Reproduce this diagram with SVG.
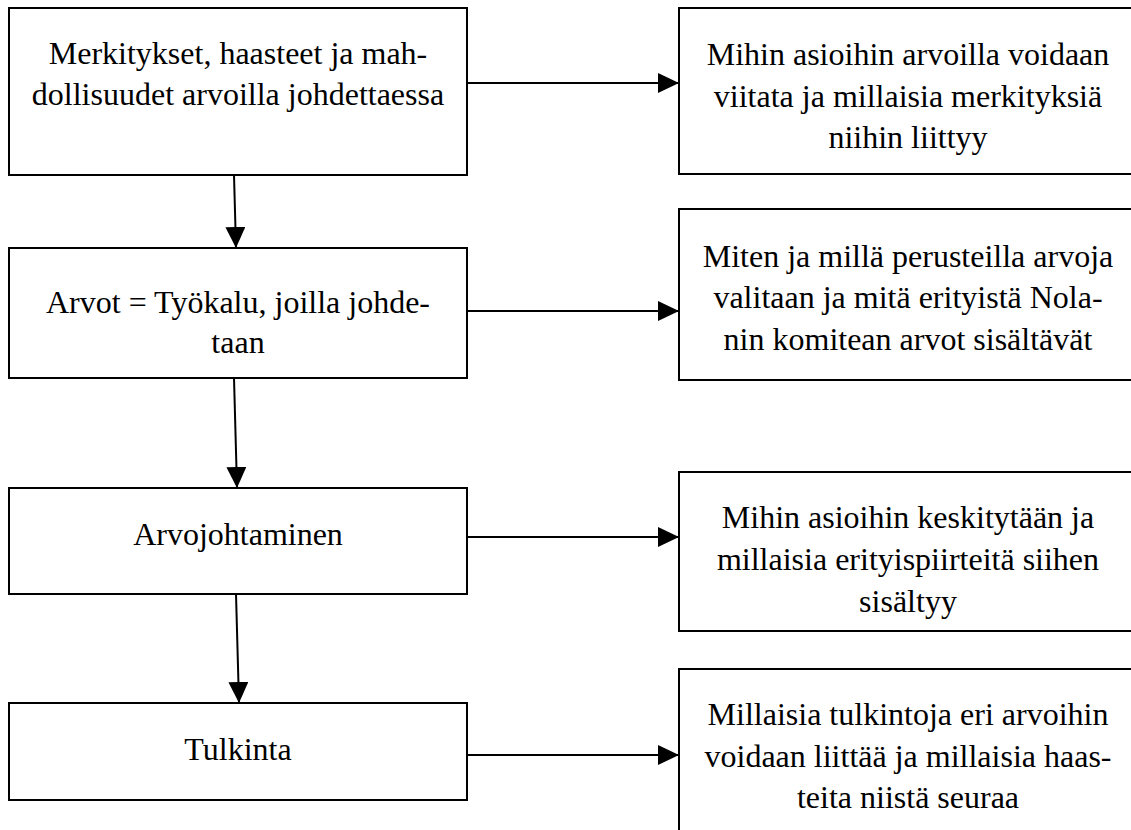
<svg xmlns="http://www.w3.org/2000/svg" width="1131" height="830" viewBox="0 0 1131 830">
<defs>
<style>
.box{fill:#fff;stroke:#000;stroke-width:2}
.t{font-family:"Liberation Serif","Times New Roman",serif;font-size:32px;fill:#000;text-anchor:middle}
.c{stroke:#000;stroke-width:2;fill:none;marker-end:url(#ah)}
</style>
<marker id="ah" markerUnits="userSpaceOnUse" markerWidth="21" markerHeight="20" refX="21" refY="10" orient="auto" viewBox="0 0 21 20">
<path d="M0,0 L21,10 L0,20 z" fill="#000"/>
</marker>
</defs>
<rect width="1131" height="830" fill="#fff"/>
<g id="connectors">
<line class="c" x1="234" y1="175" x2="236" y2="248"/>
<line class="c" x1="234" y1="378" x2="237" y2="488"/>
<line class="c" x1="236" y1="594" x2="239" y2="703"/>
<line class="c" x1="467" y1="83" x2="679" y2="83"/>
<line class="c" x1="467" y1="311" x2="679" y2="311"/>
<line class="c" x1="467" y1="537" x2="679" y2="537"/>
<line class="c" x1="467" y1="755" x2="679" y2="755"/>
</g>
<g id="L1">
<rect class="box" x="9" y="8" width="458" height="167"/>
<text class="t" x="238" y="64">Merkitykset, haasteet ja mah-</text>
<text class="t" x="238" y="105">dollisuudet arvoilla johdettaessa</text>
</g>
<g id="L2">
<rect class="box" x="9" y="248" width="458" height="130"/>
<text class="t" x="238" y="313">Arvot = Työkalu, joilla johde-</text>
<text class="t" x="238" y="353">taan</text>
</g>
<g id="L3">
<rect class="box" x="9" y="488" width="458" height="106"/>
<text class="t" x="238" y="545">Arvojohtaminen</text>
</g>
<g id="L4">
<rect class="box" x="9" y="703" width="458" height="97"/>
<text class="t" x="238" y="760">Tulkinta</text>
</g>
<g id="R1">
<rect class="box" x="679" y="8" width="470" height="166"/>
<text class="t" x="908" y="65">Mihin asioihin arvoilla voidaan</text>
<text class="t" x="908" y="107">viitata ja millaisia merkityksiä</text>
<text class="t" x="908" y="148">niihin liittyy</text>
</g>
<g id="R2">
<rect class="box" x="679" y="209" width="470" height="171"/>
<text class="t" x="908" y="267">Miten ja millä perusteilla arvoja</text>
<text class="t" x="908" y="308">valitaan ja mitä erityistä Nola-</text>
<text class="t" x="908" y="350">nin komitean arvot sisältävät</text>
</g>
<g id="R3">
<rect class="box" x="679" y="472" width="470" height="159"/>
<text class="t" x="908" y="528">Mihin asioihin keskitytään ja</text>
<text class="t" x="908" y="570">millaisia erityispiirteitä siihen</text>
<text class="t" x="908" y="612">sisältyy</text>
</g>
<g id="R4">
<rect class="box" x="679" y="669" width="470" height="200"/>
<text class="t" x="908" y="725">Millaisia tulkintoja eri arvoihin</text>
<text class="t" x="908" y="767">voidaan liittää ja millaisia haas-</text>
<text class="t" x="908" y="808">teita niistä seuraa</text>
</g>
</svg>
